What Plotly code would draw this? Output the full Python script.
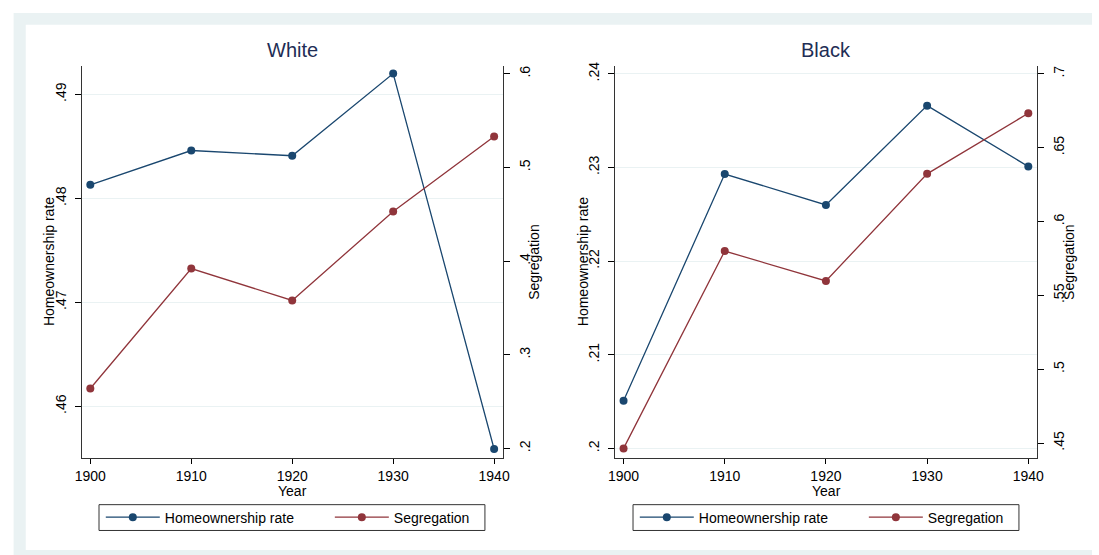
import plotly.graph_objects as go

# ---- data ----
years = [1900, 1910, 1920, 1930, 1940]
white_home = [0.4813, 0.4846, 0.4841, 0.4920, 0.4559]
white_seg = [0.264, 0.392, 0.358, 0.453, 0.533]
black_home = [0.2051, 0.2293, 0.2260, 0.2366, 0.2301]
black_seg = [0.4464, 0.580, 0.5598, 0.6323, 0.6733]

panel_titles = ["White", "Black"]
series_names = ["Homeownership rate", "Segregation"]
x_ticks = [1900, 1910, 1920, 1930, 1940]
x_ticktext = ["1900", "1910", "1920", "1930", "1940"]

wl_tickvals = [0.46, 0.47, 0.48, 0.49]
wl_ticktext = [".46", ".47", ".48", ".49"]
wr_tickvals = [0.2, 0.3, 0.4, 0.5, 0.6]
wr_ticktext = [".2", ".3", ".4", ".5", ".6"]
bl_tickvals = [0.2, 0.21, 0.22, 0.23, 0.24]
bl_ticktext = [".2", ".21", ".22", ".23", ".24"]
br_tickvals = [0.45, 0.5, 0.55, 0.6, 0.65, 0.7]
br_ticktext = [".45", ".5", ".55", ".6", ".65", ".7"]

NAVY = "#1a476f"
MAROON = "#90353b"
GRID = "#eaf2f3"
BAND = "#eaf2f3"
FONT = "Liberation Sans, Arial, sans-serif"

W, H = 1099, 555

fig = go.Figure()

def add_pair(home, seg, xa, ya_l, ya_r, leg_h, leg_s):
    fig.add_trace(go.Scatter(
        x=years, y=home, name=series_names[0], mode="lines+markers",
        line=dict(color=NAVY, width=1.3), marker=dict(color=NAVY, size=8),
        xaxis=xa, yaxis=ya_l, legend=leg_h))
    fig.add_trace(go.Scatter(
        x=years, y=seg, name=series_names[1], mode="lines+markers",
        line=dict(color=MAROON, width=1.3), marker=dict(color=MAROON, size=8),
        xaxis=xa, yaxis=ya_r, legend=leg_s))

add_pair(white_home, white_seg, "x", "y", "y2", "legend", "legend2")
add_pair(black_home, black_seg, "x2", "y3", "y4", "legend3", "legend4")

ydom = [1 - 457 / H, 1 - 62 / H]
left_dom = [75.7 / W, 502.6 / W]
right_dom = [615.8 / W, 1043.7 / W]

tickfont = dict(family=FONT, size=14, color="black")

def xax(dom, anchor):
    return dict(domain=dom, anchor=anchor, range=[1899.15, 1940.9],
                tickvals=x_ticks, ticktext=x_ticktext, ticks="outside",
                ticklen=5, tickcolor="black", showline=True, linecolor="#333",
                linewidth=1, showgrid=False, zeroline=False, tickfont=tickfont,
                ticklabelstandoff=0, fixedrange=True)

def yax(anchor, rng, tv, tt, side="left", overlaying=None, grid=True):
    d = dict(domain=ydom, anchor=anchor, range=rng, tickvals=tv, ticktext=tt,
             ticks="outside", ticklen=6, tickcolor="black", tickangle=-90,
             showline=True, linecolor="#333", linewidth=1, showgrid=grid,
             gridcolor=GRID, gridwidth=1, zeroline=False, side=side,
             tickfont=tickfont, ticklabelstandoff=3, fixedrange=True)
    if overlaying:
        d["overlaying"] = overlaying
    return d

legend_common = dict(orientation="h", y=1 - 517.3 / H, xanchor="left",
                     yanchor="middle", borderwidth=0, bgcolor="rgba(0,0,0,0)",
                     font=dict(family=FONT, size=14, color="black"),
                     itemwidth=54)

LEG_OFF = 540.9
fig.update_layout(
    width=W, height=H, margin=dict(l=0, r=0, t=0, b=0),
    paper_bgcolor="white", plot_bgcolor="rgba(0,0,0,0)",
    font=dict(family=FONT, size=14, color="black"),
    xaxis=xax(left_dom, "y"),
    xaxis2=xax(right_dom, "y3"),
    yaxis=yax("x", [0.45506, 0.49277], wl_tickvals, wl_ticktext),
    yaxis2=yax("x", [0.1901, 0.6088], wr_tickvals, wr_ticktext,
               side="right", overlaying="y", grid=False),
    yaxis3=yax("x2", [0.19901, 0.24088], bl_tickvals, bl_ticktext),
    yaxis4=yax("x2", [0.4401, 0.7056], br_tickvals, br_ticktext,
               side="right", overlaying="y3", grid=False),
    legend=dict(legend_common, x=95 / W),
    legend2=dict(legend_common, x=327 / W),
    legend3=dict(legend_common, x=(95 + LEG_OFF) / W),
    legend4=dict(legend_common, x=(327 + LEG_OFF) / W),
    showlegend=True,
)

# background bands (Stata-like)
fig.add_shape(type="rect", xref="paper", yref="paper", x0=6.7 / W, x1=1, y0=0,
              y1=1 - 9 / H, fillcolor=BAND, line_width=0, layer="below")
fig.add_shape(type="rect", xref="paper", yref="paper", x0=19 / W, x1=1,
              y0=1 - 550 / H, y1=1 - 21 / H, fillcolor="white", line_width=0,
              layer="below")
# legend frames
for off in (0, LEG_OFF):
    fig.add_shape(type="rect", xref="paper", yref="paper",
                  x0=(93.2 + off) / W, x1=(484.1 + off) / W,
                  y0=1 - 530.3 / H, y1=1 - 504.3 / H,
                  line=dict(color="#333", width=1), fillcolor="rgba(0,0,0,0)",
                  layer="below")

anns = []
for title, dom, ltitle_x, rtitle_x in [
        (panel_titles[0], left_dom, 42, 533),
        (panel_titles[1], right_dom, 583, 1075)]:
    cx = (dom[0] + dom[1]) / 2
    anns.append(dict(text=title, x=cx, y=1 - 46.7 / H, xref="paper", yref="paper",
                     showarrow=False, xanchor="center", yanchor="middle",
                     font=dict(family=FONT, size=20, color="#1e2d55")))
    anns.append(dict(text="Year", x=cx, y=1 - 491 / H, xref="paper", yref="paper",
                     showarrow=False, xanchor="center", yanchor="middle",
                     font=dict(family=FONT, size=14, color="black")))
    anns.append(dict(text=series_names[0], x=ltitle_x / W, y=1 - 259.5 / H,
                     xref="paper", yref="paper", showarrow=False, textangle=-90,
                     xanchor="center", yanchor="middle",
                     font=dict(family=FONT, size=14, color="black")))
    anns.append(dict(text=series_names[1], x=rtitle_x / W, y=1 - 259.5 / H,
                     xref="paper", yref="paper", showarrow=False, textangle=-90,
                     xanchor="center", yanchor="middle",
                     font=dict(family=FONT, size=14, color="black")))
fig.update_layout(annotations=anns)

fig.write_html(
    "out.html",
    config={"displayModeBar": False},
    post_script="document.body.style.margin='0';document.body.style.overflow='hidden';",
)
